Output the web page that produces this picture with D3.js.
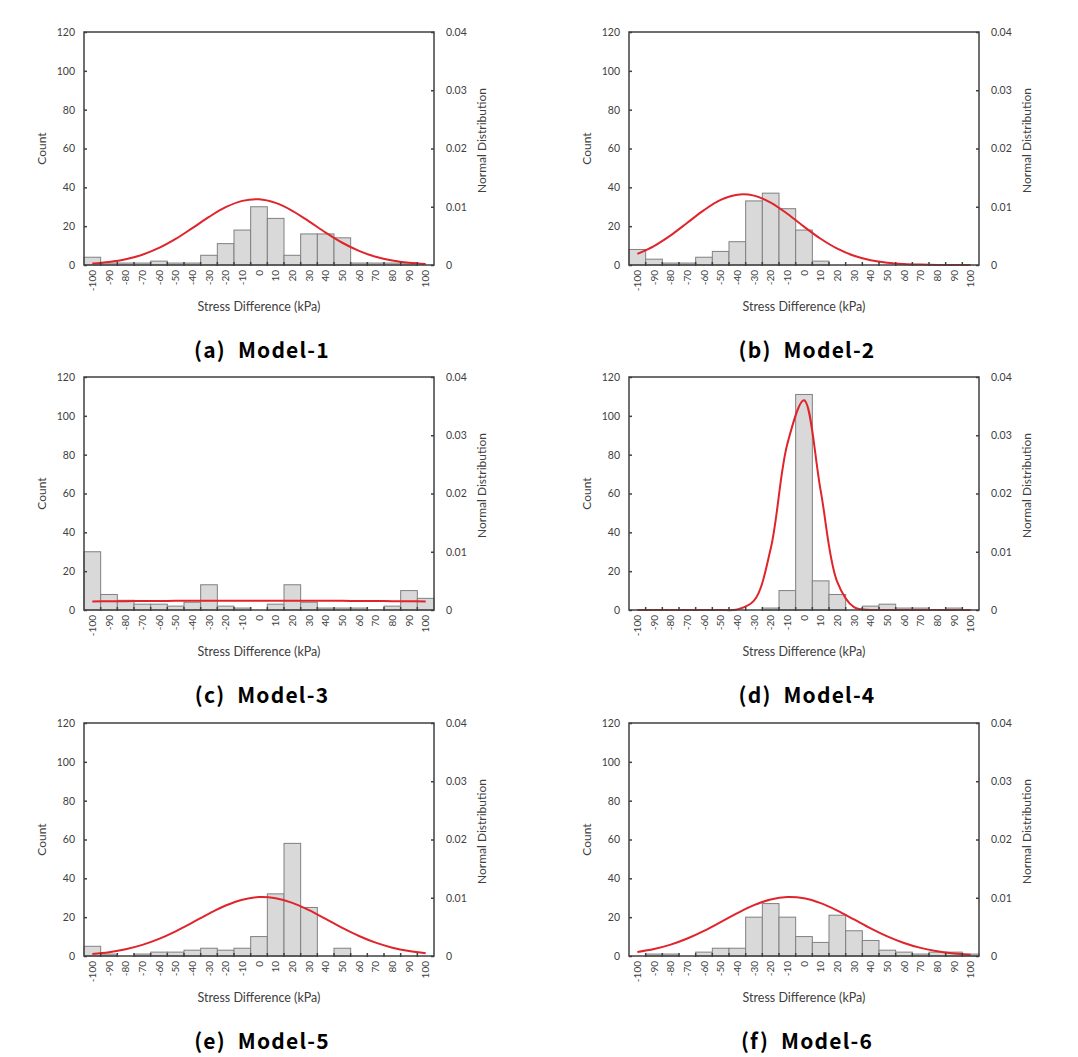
<!DOCTYPE html>
<html>
<head>
<meta charset="utf-8">
<script src="https://cdn.jsdelivr.net/npm/d3@7/dist/d3.min.js"></script>
<style>
  body { margin: 0; background: #fff; }
  svg { display: block; }
  .tick text { font-family: Lato, "Open Sans", sans-serif; fill: #404040; }
</style>
</head>
<body>
<svg id="chart" width="1078" height="1057"></svg>
<script>
// ---------------- DATA ----------------
const categories = [-100,-90,-80,-70,-60,-50,-40,-30,-20,-10,0,10,20,30,40,50,60,70,80,90,100];
const tickLabels = categories.map(String);
const countTicks = [0,20,40,60,80,100,120];
const pdfTicks = [0,0.01,0.02,0.03,0.04];
const pdfTickLabels = ["0","0.01","0.02","0.03","0.04"];

const countsModel1 = [4,1,1,1,2,1,1,5,11,18,30,24,5,16,16,14,1,1,1,1,0];
const countsModel2 = [8,3,1,1,4,7,12,33,37,29,18,2,0,0,0,0,0,0,0,0,0];
const countsModel3 = [30,8,5,3,3,2,4,13,2,1,0,3,13,4,1,1,1,0,2,10,6];
const countsModel4 = [0,0,0,0,0,0,0,0,1,10,111,15,8,0,2,3,1,1,0,1,0];
const countsModel5 = [5,1,0,1,2,2,3,4,3,4,10,32,58,25,0,4,0,0,0,0,0];
const countsModel6 = [0,1,1,0,2,4,4,20,27,20,10,7,21,13,8,3,2,1,2,2,1];

const normalModel1 = [0.00024,0.00051,0.00098,0.00177,0.00293,0.00448,0.00633,0.00825,0.00992,0.01101,0.01128,0.01066,0.00931,0.00749,0.00557,0.00382,0.00242,0.00141,0.00076,0.00038,0.00017];
const normalModel2 = [0.00191,0.00326,0.00509,0.00725,0.00942,0.01117,0.01207,0.01191,0.01071,0.00879,0.00658,0.00450,0.00280,0.00159,0.00083,0.00039,0.00017,0.00007,0.00002,0.00001,0.00000];
const normalModel3 = [0.00148,0.00150,0.00152,0.00154,0.00155,0.00157,0.00158,0.00159,0.00159,0.00160,0.00160,0.00160,0.00159,0.00159,0.00158,0.00157,0.00155,0.00154,0.00152,0.00150,0.00148];
const normalModel4 = [0,0,0,0,0,0,0.00010,0.00160,0.01050,0.02850,0.03600,0.02050,0.00480,0.00050,0.00002,0,0,0,0,0,0];
const normalModel5 = [0.00036,0.00066,0.00116,0.00191,0.00294,0.00424,0.00574,0.00728,0.00867,0.00967,0.01012,0.00992,0.00913,0.00787,0.00636,0.00482,0.00343,0.00229,0.00143,0.00084,0.00046];
const normalModel6 = [0.00068,0.00119,0.00195,0.00300,0.00431,0.00582,0.00736,0.00873,0.00971,0.01012,0.00990,0.00907,0.00780,0.00628,0.00475,0.00337,0.00224,0.00139,0.00081,0.00044,0.00023];

const captions = ["(a)  Model-1","(b)  Model-2","(c)  Model-3","(d)  Model-4","(e)  Model-5","(f)  Model-6"];
const xTitle = "Stress Difference (kPa)";
const yLeftTitle = "Count";
const yRightTitle = "Normal Distribution";

// ---------------- LAYOUT ----------------
const countSeries = [countsModel1,countsModel2,countsModel3,countsModel4,countsModel5,countsModel6];
const normalSeries = [normalModel1,normalModel2,normalModel3,normalModel4,normalModel5,normalModel6];
const colLeft = [84, 629];
const rowTop = [32, 377, 723];
const W = 350, H = 233;

const svg = d3.select("#chart");
const font = 'Lato, "Open Sans", sans-serif';

countSeries.forEach((counts, i) => {
  const left = colLeft[i % 2], top = rowTop[Math.floor(i / 2)];
  const g = svg.append("g").attr("transform", `translate(${left},${top})`);

  const x = d3.scaleBand().domain(categories).range([0, W]).padding(0);
  const yL = d3.scaleLinear().domain([0, 120]).range([H, 0]);
  const yR = d3.scaleLinear().domain([0, 0.04]).range([H, 0]);

  // bars
  g.append("g").selectAll("rect")
    .data(categories.map((c, j) => ({c, v: counts[j]})).filter(d => d.v > 0))
    .join("rect")
    .attr("x", d => x(d.c))
    .attr("width", x.bandwidth())
    .attr("y", d => yL(d.v))
    .attr("height", d => H - yL(d.v))
    .attr("fill", "#d9d9d9")
    .attr("stroke", "#808080")
    .attr("stroke-width", 1);

  // normal curve
  const line = d3.line()
    .x(d => x(d.c) + x.bandwidth() / 2)
    .y(d => yR(d.v))
    .curve(d3.curveCatmullRom.alpha(0.5));
  g.append("path")
    .datum(categories.map((c, j) => ({c, v: normalSeries[i][j]})))
    .attr("d", line)
    .attr("fill", "none")
    .attr("stroke", "#e0242b")
    .attr("stroke-width", 2);

  // left axis
  const ax = g.append("g")
    .call(d3.axisLeft(yL).tickValues(countTicks).tickSize(-3).tickPadding(9));
  ax.select(".domain").remove();
  ax.selectAll("line").attr("stroke", "#404040").attr("stroke-width", 1.5);
  ax.selectAll("text").attr("font-size", 10.5);

  // right axis
  const ar = g.append("g").attr("transform", `translate(${W},0)`)
    .call(d3.axisRight(yR).tickValues(pdfTicks).tickFormat((d, j) => pdfTickLabels[j]).tickSize(-3).tickPadding(12));
  ar.select(".domain").remove();
  ar.selectAll("line").attr("stroke", "#404040").attr("stroke-width", 1.5);
  ar.selectAll("text").attr("font-size", 10.5);

  // bottom axis (labels)
  const ab = g.append("g").attr("transform", `translate(0,${H})`)
    .call(d3.axisBottom(x).tickFormat((d, j) => tickLabels[j]).tickSize(0));
  ab.select(".domain").remove();
  ab.selectAll("text")
    .attr("font-size", 10)
    .attr("transform", "rotate(-90)")
    .attr("text-anchor", "end")
    .attr("x", -5)
    .attr("y", 0)
    .attr("dy", "0.35em");

  // boundary ticks
  g.append("g").selectAll("line")
    .data(categories.slice(1))
    .join("line")
    .attr("x1", d => x(d)).attr("x2", d => x(d))
    .attr("y1", H - 3).attr("y2", H + 1)
    .attr("stroke", "#404040").attr("stroke-width", 1.5);

  // frame
  g.append("rect")
    .attr("x", 0).attr("y", 0).attr("width", W).attr("height", H)
    .attr("fill", "none").attr("stroke", "#404040").attr("stroke-width", 1.5);

  // titles
  g.append("text")
    .attr("transform", `translate(-42,${H / 2}) rotate(-90)`)
    .attr("text-anchor", "middle").attr("dy", "0.35em")
    .attr("font-family", font).attr("font-size", 12).attr("fill", "#404040")
    .text(yLeftTitle);
  g.append("text")
    .attr("transform", `translate(${W + 48},${H / 2 - 8}) rotate(-90)`)
    .attr("text-anchor", "middle").attr("dy", "0.35em")
    .attr("font-family", font).attr("font-size", 12).attr("fill", "#404040")
    .text(yRightTitle);
  g.append("text")
    .attr("x", W / 2).attr("y", H + 46)
    .attr("text-anchor", "middle")
    .attr("font-family", font).attr("font-size", 12.5).attr("fill", "#404040")
    .text(xTitle);

  // caption
  g.append("text")
    .attr("x", W / 2 + 3).attr("y", H + 93)
    .attr("text-anchor", "middle")
    .attr("font-family", '"Noto Sans CJK KR", "Liberation Sans", sans-serif')
    .attr("font-weight", "bold").attr("font-size", 21)
    .attr("letter-spacing", 1.2)
    .attr("fill", "#000")
    .style("white-space", "pre")
    .text(captions[i]);
});
</script>
</body>
</html>
